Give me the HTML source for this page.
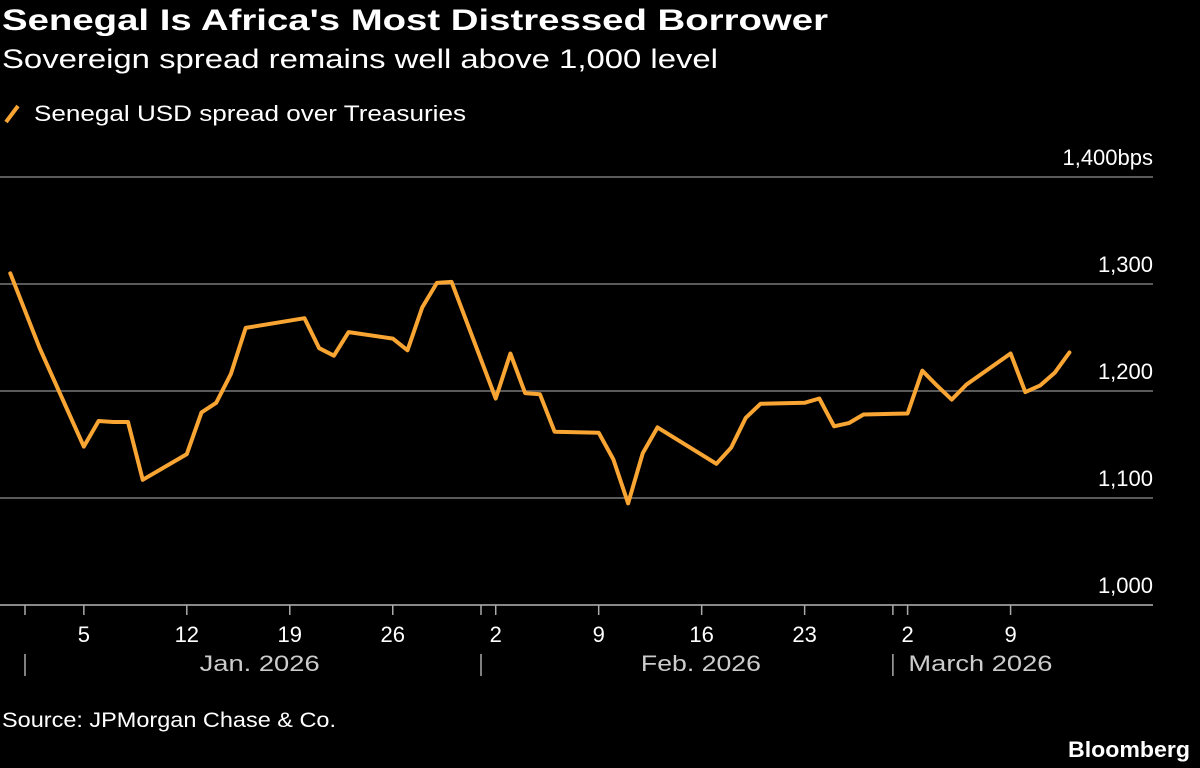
<!DOCTYPE html>
<html><head><meta charset="utf-8"><style>
html,body{margin:0;padding:0;background:#000;}
svg{display:block;font-family:"Liberation Sans Narrow","Liberation Sans",sans-serif;}
</style></head><body>
<svg id="chart" width="1200" height="768" viewBox="0 0 1200 768">
<rect width="1200" height="768" fill="#000"/>
<text x="2" y="30" fill="#fff" font-size="30" font-weight="bold" textLength="826" lengthAdjust="spacingAndGlyphs">Senegal Is Africa's Most Distressed Borrower</text>
<text x="2" y="68" fill="#fff" font-size="27" textLength="716" lengthAdjust="spacingAndGlyphs">Sovereign spread remains well above 1,000 level</text>
<g>
<line x1="6" y1="122" x2="18" y2="106" stroke="#f9a533" stroke-width="4"/>
<text x="34" y="121" fill="#fff" font-size="22" textLength="432" lengthAdjust="spacingAndGlyphs">Senegal USD spread over Treasuries</text>
</g>
<g id="grid"></g><g id="xaxis"></g><g id="series"></g>
<text x="2" y="727" fill="#fff" font-size="21" textLength="334" lengthAdjust="spacingAndGlyphs">Source: JPMorgan Chase &amp; Co.</text>
<text x="1190" y="757" fill="#fff" font-size="22" font-weight="bold" text-anchor="end" textLength="122" lengthAdjust="spacingAndGlyphs">Bloomberg</text>
</svg>
<script>
const dates=["2025-12-31","2026-01-02","2026-01-05","2026-01-06","2026-01-07","2026-01-08","2026-01-09","2026-01-12","2026-01-13","2026-01-14","2026-01-15","2026-01-16","2026-01-20","2026-01-21","2026-01-22","2026-01-23","2026-01-26","2026-01-27","2026-01-28","2026-01-29","2026-01-30","2026-02-02","2026-02-03","2026-02-04","2026-02-05","2026-02-06","2026-02-09","2026-02-10","2026-02-11","2026-02-12","2026-02-13","2026-02-17","2026-02-18","2026-02-19","2026-02-20","2026-02-23","2026-02-24","2026-02-25","2026-02-26","2026-02-27","2026-03-02","2026-03-03","2026-03-04","2026-03-05","2026-03-06","2026-03-09","2026-03-10","2026-03-11","2026-03-12","2026-03-13"];
const spreads=[1310,1240,1148,1172,1171,1171,1117,1141,1180,1189,1216,1259,1268,1240,1233,1255,1249,1238,1278,1301,1302,1193,1235,1198,1197,1162,1161,1136,1095,1142,1166,1132,1147,1175,1188,1189,1193,1167,1170,1178,1179,1219,1205,1192,1206,1235,1199,1205,1217,1236];
const yTicks=[1000,1100,1200,1300,1400];
const yTickLabels=["1,000","1,100","1,200","1,300","1,400bps"];
const xTickDates=["2026-01-05","2026-01-12","2026-01-19","2026-01-26","2026-02-02","2026-02-09","2026-02-16","2026-02-23","2026-03-02","2026-03-09"];
const xTickLabels=["5","12","19","26","2","9","16","23","2","9"];
const monthStarts=["2026-01-01","2026-02-01","2026-03-01"];
const monthLabels=["Jan. 2026","Feb. 2026","March 2026"];
const monthLabelDates=["2026-01-16","2026-02-15","2026-03-06"];

const NS="http://www.w3.org/2000/svg";
const day0=Date.UTC(2026,0,1);
function dayOf(s){const p=s.split("-");return (Date.UTC(+p[0],+p[1]-1,+p[2])-day0)/86400000;}
function xScale(s){return 25+dayOf(s)*14.71;}
function yScale(v){return 605-(v-1000)*1.07;}
function mk(tag,attrs,parent){const e=document.createElementNS(NS,tag);for(const k in attrs)e.setAttribute(k,attrs[k]);parent.appendChild(e);return e;}
const grid=document.getElementById("grid"),xa=document.getElementById("xaxis"),ser=document.getElementById("series");
yTicks.forEach((v,i)=>{
  const y=yScale(v);
  const l=mk("line",{x1:0,x2:1153,y1:y,y2:y,stroke:i===0?"#888":"#5a5a5a","stroke-width":2},grid);
  
  
  const t=mk("text",{x:1153,y:y-12,fill:"#fff","font-size":22,"text-anchor":"end"},grid);
  t.textContent=yTickLabels[i];
  
  
});
const tickY=yScale(1000);
xTickDates.forEach((d,i)=>{
  const x=xScale(d);
  const l=mk("line",{x1:x,x2:x,y1:tickY,y2:tickY+10,stroke:"#aaa","stroke-width":1.5},xa);
  
  
  const t=mk("text",{x:x,y:642,fill:"#fff","font-size":22,"text-anchor":"middle"},xa);
  t.textContent=xTickLabels[i];
  
  
});
monthStarts.forEach((d,i)=>{
  const x=xScale(d);
  const l=mk("line",{x1:x,x2:x,y1:tickY,y2:tickY+10,stroke:"#aaa","stroke-width":1.5},xa);
  
  
  const s=mk("line",{x1:x,x2:x,y1:654,y2:676,stroke:"#aaa","stroke-width":1.5},xa);
  
  
  const t=mk("text",{x:xScale(monthLabelDates[i])+14,y:671,fill:"#ccc","font-size":22,"text-anchor":"middle",textLength:i===2?144:120,lengthAdjust:"spacingAndGlyphs"},xa);
  t.textContent=monthLabels[i];
  
  
});
const pts=dates.map((d,i)=>xScale(d).toFixed(1)+","+yScale(spreads[i]).toFixed(1)).join(" ");
const pl=mk("polyline",{points:pts,fill:"none",stroke:"#f9a533","stroke-width":4,"stroke-linejoin":"round","stroke-linecap":"round"},ser);


</script>
</body></html>
